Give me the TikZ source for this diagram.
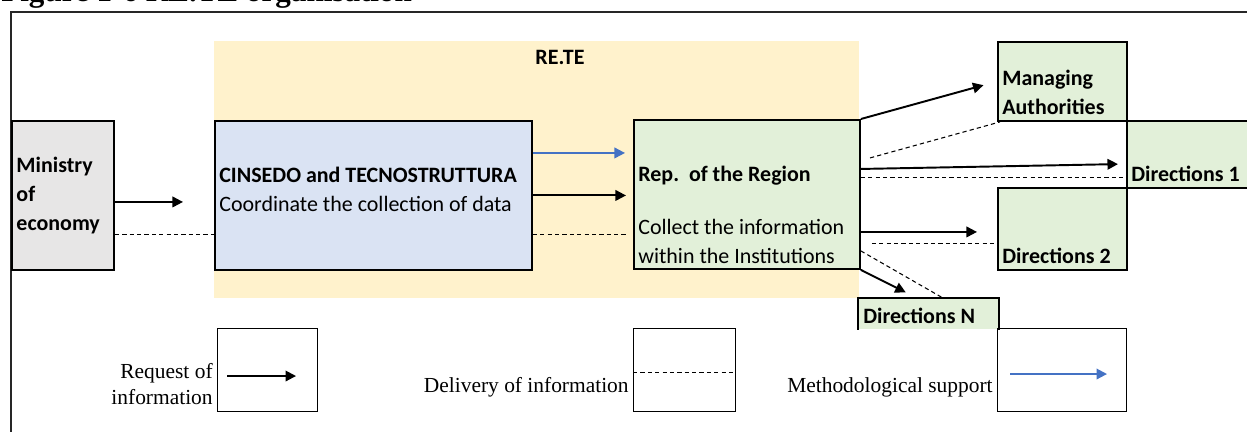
\documentclass[tikz,border=0pt]{standalone}
\usepackage{fontspec}
\setmainfont{Carlito}
\newfontfamily\timesfont{Liberation Serif}
\usetikzlibrary{arrows.meta, positioning}
\definecolor{reteGiallo}{RGB}{255,242,204}
\definecolor{minGrigio}{RGB}{231,230,230}
\definecolor{cinAzzurro}{RGB}{218,227,243}
\definecolor{regVerde}{RGB}{226,240,217}
\definecolor{metBlu}{RGB}{68,114,196}

\begin{document}
\begin{tikzpicture}[x=0.02cm, y=-0.02cm,
        box/.style={draw, line width=1.1pt, inner sep=0pt, anchor=north west},
        legbox/.style={draw, line width=0.6pt, inner sep=0pt, anchor=north west, minimum height=1.66cm},
        txt/.style={inner sep=0pt, font=\fontsize{12.5}{16.4}\selectfont},
        btxt/.style={inner sep=0pt, font=\fontsize{12.5}{16.4}\selectfont\bfseries},
        legtxt/.style={inner sep=0pt, font=\timesfont\fontsize{12.2}{14.6}\selectfont},
        req/.style={-{Triangle[length=6pt, width=6pt]}, line width=1.1pt},
        dlv/.style={line width=0.6pt, dash pattern=on 2.4pt off 1.8pt},
        met/.style={-{Triangle[length=6pt, width=6pt]}, line width=1.1pt, metBlu}]
        \useasboundingbox (0,0) rectangle (1247,432);
        \node[anchor=base west, inner sep=0pt, font=\timesfont\bfseries\fontsize{17.7}{20}\selectfont] (titolo) at (1,2) {Figure 1-6 RE.TE organisation};
        \draw[line width=0.7pt, black!85] (1247,12) -- (11,12) -- (11,432);

        % area RE.TE
        \node[fill=reteGiallo, inner sep=0pt, anchor=north west, minimum width=12.9cm, minimum height=5.14cm] (rete) at (214,41) {};
        \node[btxt, anchor=base] (reteT) at (560,65) {RE.TE};

        \node[box, fill=minGrigio, minimum width=2.04cm, minimum height=2.98cm, text width=1.86cm, align=left, inner xsep=0.08cm, font=\fontsize{12.5}{16.4}\selectfont\bfseries] (min) at (11,120) {Ministry\\of\\economy};
        \node[box, fill=cinAzzurro, minimum width=6.34cm, minimum height=2.98cm] (cin) at (214,120) {};
        \node[btxt, anchor=base west] (cin1) at (219,183) {CINSEDO and TECNOSTRUTTURA};
        \node[txt, anchor=base west] (cin2) at (219,212) {Coordinate the collection of data};
        \node[box, fill=regVerde, minimum width=4.52cm, minimum height=2.98cm] (rep) at (633,119) {};
        \node[btxt, anchor=base west] (rep1) at (638,182) {Rep.\ \ of the Region};
        \node[txt, anchor=south west, align=left] (rep2) at (638,264) {Collect the information\\within the Institutions};

        \node[box, fill=regVerde, minimum width=2.58cm, minimum height=1.58cm] (man) at (997,41) {};
        \node[btxt, anchor=south west, align=left] (manT) at (1002,115) {Managing\\Authorities};
        \node[box, fill=regVerde, minimum width=2.72cm, minimum height=1.34cm] (dir1) at (1126,120) {};
        \node[btxt, anchor=base west] (dir1T) at (1131,182) {Directions 1};
        \node[box, fill=regVerde, minimum width=2.58cm, minimum height=1.64cm] (dir2) at (997,187) {};
        \node[btxt, anchor=base west] (dir2T) at (1002,263) {Directions 2};
        \node[box, draw=none, fill=regVerde, minimum width=2.78cm, minimum height=0.6cm] (dirN) at (858,298) {};
        \draw[line width=1.1pt] (dirN.south west) |- (dirN.north east) -- (dirN.south east);
        \node[btxt, anchor=base west] (dirNT) at (863,323) {Directions N};

        % flussi
        \draw[req, shorten >=0.62cm] ([yshift=-0.13cm]min.east) -- ([yshift=-0.13cm]min.east -| cin.west);
        \draw[dlv] ([yshift=-0.79cm]min.east) -- ([yshift=-0.79cm]min.east -| cin.west);
        \draw[met, shorten >=0.16cm] ([yshift=0.85cm]cin.east) -- ([yshift=0.85cm]cin.east -| rep.west);
        \draw[req, shorten >=0.14cm] (cin.east) -- (cin.east -| rep.west);
        \draw[dlv, shorten >=0.1cm] ([yshift=-0.79cm]cin.east) -- ([yshift=-0.79cm]cin.east -| rep.west);
        \draw[req, shorten >=0.28cm] (rep.north east) -- (man.west);
        \draw[dlv, shorten <=0.19cm] ([yshift=0.68cm]rep.east) -- ([xshift=0.06cm]man.south west);
        \draw[req, shorten >=0.16cm] ([yshift=0.51cm]rep.east) -- ([yshift=-0.19cm]dir1.west);
        \draw[dlv] ([yshift=0.33cm]rep.east) -- ([yshift=0.33cm]rep.east -| dir1.west);
        \draw[req, shorten >=0.4cm] ([yshift=-0.75cm]rep.east) -- ([yshift=-0.75cm]rep.east -| dir2.west);
        \draw[dlv, shorten <=0.22cm] ([yshift=-0.99cm]rep.east) -- ([yshift=-0.99cm]rep.east -| dir2.west);
        \draw[req, shorten >=0.25cm] (rep.south east) -- ([xshift=-0.23cm]dirN.north);
        \draw[dlv] ([yshift=-1.13cm]rep.east) -- ([xshift=0.29cm]dirN.north);

        % legenda
        \node[legbox, minimum width=2.0cm] (lg1) at (217,328) {};
        \node[legbox, minimum width=2.04cm] (lg2) at (633,328) {};
        \node[legbox, minimum width=2.58cm] (lg3) at (997,328) {};
        \node[legtxt, anchor=south east, align=right] (lgT1) at (213,405) {Request of\\information};
        \node[legtxt, anchor=base east] (lgT2) at (629,392) {Delivery of information};
        \node[legtxt, anchor=base east] (lgT3) at (993,392) {Methodological support};
        \draw[req] ([xshift=0.2cm, yshift=-0.12cm]lg1.west) -- ([xshift=-0.44cm, yshift=-0.12cm]lg1.east);
        \draw[dlv] ([yshift=-0.05cm]lg2.west) -- ([yshift=-0.05cm]lg2.east);
        \draw[met] ([xshift=0.26cm, yshift=-0.08cm]lg3.west) -- ([xshift=-0.4cm, yshift=-0.08cm]lg3.east);
\end{tikzpicture}
\end{document}
